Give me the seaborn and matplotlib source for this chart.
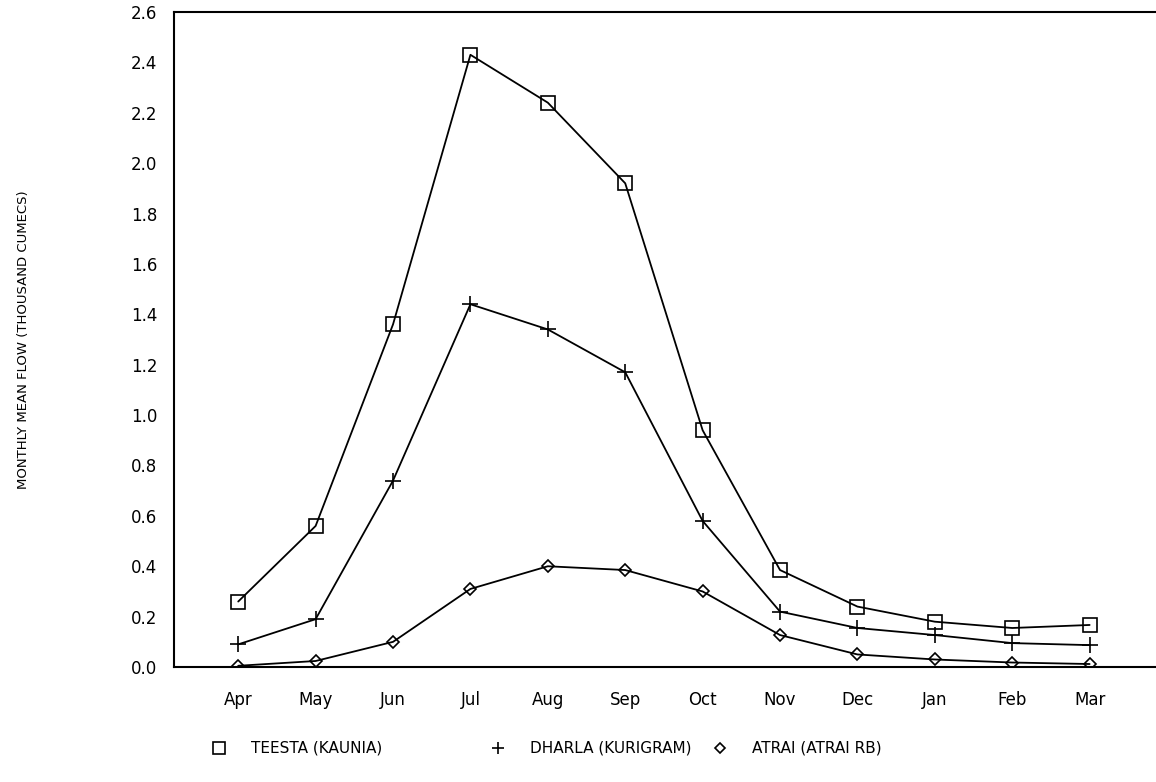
import pandas as pd
import matplotlib
matplotlib.use("Agg")
import matplotlib.pyplot as plt
from matplotlib.lines import Line2D
import seaborn as sns

# ==========================================
# 1. DATA
# ==========================================
months = ['Apr', 'May', 'Jun', 'Jul', 'Aug', 'Sep', 'Oct', 'Nov', 'Dec', 'Jan', 'Feb', 'Mar']
teesta = [0.26, 0.56, 1.36, 2.43, 2.24, 1.92, 0.94, 0.385, 0.24, 0.18, 0.155, 0.167]
dharla = [0.09, 0.19, 0.74, 1.44, 1.34, 1.17, 0.58, 0.22, 0.155, 0.127, 0.095, 0.087]
atrai = [0.005, 0.024, 0.10, 0.31, 0.40, 0.385, 0.30, 0.127, 0.05, 0.03, 0.018, 0.012]
rivers = ['TEESTA (KAUNIA)', 'DHARLA (KURIGRAM)', 'ATRAI (ATRAI RB)']
y_ticks = [0.0, 0.2, 0.4, 0.6, 0.8, 1.0, 1.2, 1.4, 1.6, 1.8, 2.0, 2.2, 2.4, 2.6]

series = {rivers[0]: teesta, rivers[1]: dharla, rivers[2]: atrai}
marker_map = {rivers[0]: 's', rivers[1]: '+', rivers[2]: 'D'}
size_map = {rivers[0]: 10, rivers[1]: 11, rivers[2]: 6.5}

# ==========================================
# 2. PLOT
# ==========================================
sns.set_theme(style='white')
plt.rcParams['font.family'] = ['DejaVu Sans']
plt.rcParams['text.color'] = 'black'
plt.rcParams['axes.labelcolor'] = 'black'

fig = plt.figure(figsize=(11.56, 7.82), dpi=100)
ax = fig.add_axes([0.1505, 0.147, 0.849, 0.8377])

for river in rivers:
    d = pd.DataFrame({'month_idx': range(len(months)), 'flow': series[river]})
    sns.lineplot(data=d, x='month_idx', y='flow', color='black',
                 marker=marker_map[river], markersize=size_map[river], mec='black',
                 mfc='none', mew=1.2, linewidth=1.3, ax=ax)

ax.set_xlim(-0.83, 11.85)
ax.set_ylim(0, 2.6)
ax.set_xticks(range(len(months)))
ax.set_xticklabels(months)
ax.set_yticks(y_ticks)
ax.set_yticklabels([f'{v:.1f}' for v in y_ticks])
ax.tick_params(axis='both', direction='in', length=10, width=1.5,
               colors='black', labelsize=12)
ax.tick_params(axis='x', pad=17)
ax.tick_params(axis='y', pad=12)
ax.set_xlabel('')
ax.set_ylabel('MONTHLY MEAN FLOW (THOUSAND CUMECS)', fontsize=9.5)
ax.yaxis.set_label_coords(-0.147, 0.5)

for side in ['left', 'top', 'bottom']:
    ax.spines[side].set_color('black')
    ax.spines[side].set_linewidth(1.5)
ax.spines['right'].set_visible(False)

# legend entries placed individually along the bottom
legend_x = [0.171, 0.412, 0.604]
for river, lx in zip(rivers, legend_x):
    h = Line2D([], [], linestyle='none', marker=marker_map[river], color='black',
               mfc='none', markersize=size_map[river] * 0.8, mew=1.2)
    fig.legend([h], [river], loc='center left', bbox_to_anchor=(lx, 0.043),
               frameon=False, fontsize=11, handlelength=1.0, handletextpad=1.6)

plt.savefig('out.png', dpi=100)
